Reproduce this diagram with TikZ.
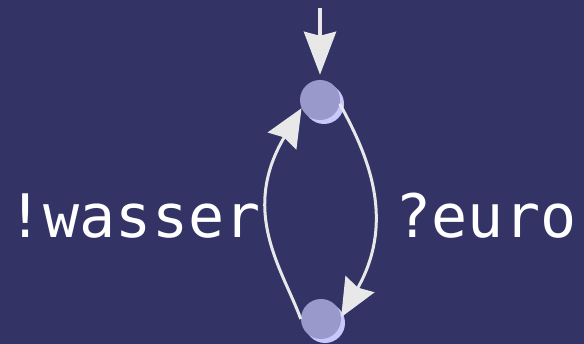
\documentclass[tikz,border=0pt]{standalone}
\usepackage{fontspec}
\setmonofont{DejaVu Sans Mono}
\usetikzlibrary{arrows.meta,shadows}
\definecolor{bgc}{HTML}{333366}
\definecolor{nodec}{HTML}{9999CC}
\definecolor{shadc}{HTML}{C8C8FF}
\definecolor{edgec}{HTML}{E8E8E8}
\tikzset{
  state/.style={circle, fill=nodec, draw=none, minimum size=40pt, inner sep=0pt,
    copy shadow={shadow xshift=4pt, shadow yshift=-4pt, fill=shadc, draw=none}},
  edge/.style={draw=edgec, line width=3pt,
    -{Stealth[length=38pt, width=33pt, inset=4pt]}},
  lbl/.style={text=white, font=\ttfamily\fontsize{60}{60}\selectfont, inner sep=0pt, anchor=base}
}
\begin{document}
\begin{tikzpicture}[x=1pt,y=-1pt]
  \fill[bgc] (0,0) rectangle (584,344);
  \useasboundingbox (0,0) rectangle (584,344);
  \node[state] (top) at (320,100) {};
  \node[state] (bot) at (321,319) {};
  \coordinate (start) at (320,8);
  \draw[draw=edgec, line width=4pt, shorten >=5pt,
    -{Stealth[length=43pt, width=32pt, inset=4pt]}] (start) -- (top.north);
  \draw[edge] (top.-11) .. controls +(22,41) and +(58,-102) .. (bot.5);
  \draw[edge] (bot.180) .. controls +(-18,-49) and +(-62,104) .. (top.204);
  \node[lbl] (wasser) at (134,238) {!wasser};
  \node[lbl] (euro) at (486,238) {?euro};
\end{tikzpicture}
\end{document}
